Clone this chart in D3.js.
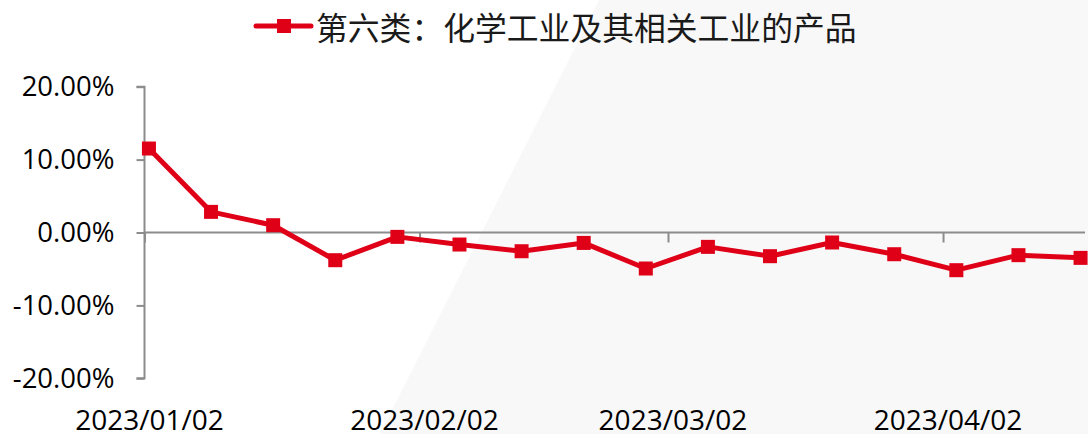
<!DOCTYPE html>
<html>
<head>
<meta charset="utf-8">
<script src="https://cdn.jsdelivr.net/npm/d3@7"></script>
<style>
  body { margin: 0; background: #fff; }
  svg { display: block; }
</style>
</head>
<body>
<div id="chart"></div>
<script>
// weekly observations
const dates = ["2023-01-02", "2023-01-09", "2023-01-16", "2023-01-23", "2023-01-30", "2023-02-06",
    "2023-02-13", "2023-02-20", "2023-02-27", "2023-03-06", "2023-03-13", "2023-03-20",
    "2023-03-27", "2023-04-03", "2023-04-10", "2023-04-17"];
const values = [11.52, 2.83, 1.0, -3.8, -0.6, -1.65, -2.57, -1.43, -4.94, -1.97, -3.25, -1.37,
    -2.98, -5.17, -3.11, -3.48];
const seriesName = "第六类：化学工业及其相关工业的产品";
const yTicks = [-20, -10, 0, 10, 20];
const xTicks = ["2023-01-02", "2023-02-02", "2023-03-02", "2023-04-02"];

const width = 1088,
    height = 434,
    margin = ({top: 86.7, right: 3, bottom: 55.7, left: 144.5});

const parse = d3.utcParse("%Y-%m-%d");
const data = dates.map((d, i) => ({date: parse(d), value: values[i]}));

const svg = d3.select("#chart").append("svg")
    .attr("width", width).attr("height", height)
    .attr("viewBox", [0, 0, width, height]);

// faint backdrop shape
svg.append("path")
    .attr("d", `M380,${height}L599,0L${width},0L${width},${height}Z`)
    .attr("fill", "#f8f8f8");

const x = d3.scaleUtc()
    .domain([parse("2023-01-02"), parse("2023-04-18")])
    .range([margin.left, width - margin.right]);

const y = d3.scaleLinear()
    .domain([-20, 20])
    .range([height - margin.bottom, margin.top]);

const halfDay = (x(d3.utcDay.offset(parse("2023-01-02"), 1)) - x(parse("2023-01-02"))) / 2;
const fmt = d3.utcFormat("%Y/%m/%d");
const axisColor = "#8c8c8c";

// y axis
const yAxis = svg.append("g")
    .attr("transform", `translate(${margin.left}, 0)`)
    .call(d3.axisLeft(y).tickValues(yTicks).tickSize(8).tickPadding(22)
        .tickFormat(d => d.toFixed(2) + "%"));
yAxis.select(".domain").attr("stroke", axisColor).attr("stroke-width", 2)
    .attr("d", `M-8,${y(20)}H0V${y(-20)}H-8`);
yAxis.selectAll(".tick line").attr("stroke", axisColor).attr("stroke-width", 2);
yAxis.selectAll(".tick text")
    .attr("fill", "#000")
    .style("font-family", "'Open Sans', 'Liberation Sans', sans-serif")
    .style("font-size", "27.5px");

// x axis line at zero
const xAxis = svg.append("g")
    .attr("transform", `translate(0, ${y(0)})`)
    .call(d3.axisBottom(x).tickValues(xTicks.map(parse)).tickSize(10).tickFormat(""));
xAxis.select(".domain").attr("stroke", axisColor).attr("stroke-width", 2)
    .attr("d", `M${margin.left},0H${width - margin.right}`);
xAxis.selectAll(".tick line").attr("stroke", axisColor).attr("stroke-width", 2);

// x labels sit at the bottom
const xLabels = svg.append("g")
    .attr("transform", `translate(0, ${y(-20)})`)
    .call(d3.axisBottom(x).tickValues(xTicks.map(parse)).tickSize(0).tickPadding(31.4)
        .tickFormat(fmt));
xLabels.select(".domain").remove();
xLabels.selectAll(".tick text")
    .attr("dx", halfDay)
    .attr("fill", "#000")
    .style("font-family", "'Open Sans', 'Liberation Sans', sans-serif")
    .style("font-size", "28px");

const red = "#df0018";

const line = d3.line()
    .x(d => x(d.date) + halfDay)
    .y(d => y(d.value));

svg.append("path")
    .datum(data)
    .attr("fill", "none")
    .attr("stroke", red)
    .attr("stroke-width", 5)
    .attr("stroke-linejoin", "round")
    .attr("d", line);

svg.selectAll(".pt")
    .data(data)
    .join("rect")
    .attr("class", "pt")
    .attr("fill", red)
    .attr("x", d => x(d.date) + halfDay - 7)
    .attr("y", d => y(d.value) - 7)
    .attr("width", 14)
    .attr("height", 14);

// legend
const legend = svg.append("g");
legend.append("line")
    .attr("x1", 256).attr("x2", 311).attr("y1", 26).attr("y2", 26)
    .attr("stroke", red).attr("stroke-width", 5).attr("stroke-linecap", "round");
legend.append("rect")
    .attr("x", 277).attr("y", 19).attr("width", 14).attr("height", 14)
    .attr("fill", red);
legend.append("text")
    .attr("x", 316).attr("y", 25.5)
    .attr("dominant-baseline", "central")
    .attr("fill", "#1a1a1a")
    .style("font-family", "'Noto Sans CJK SC', sans-serif")
    .style("font-size", "31.8px")
    .text(seriesName);
</script>
</body>
</html>
